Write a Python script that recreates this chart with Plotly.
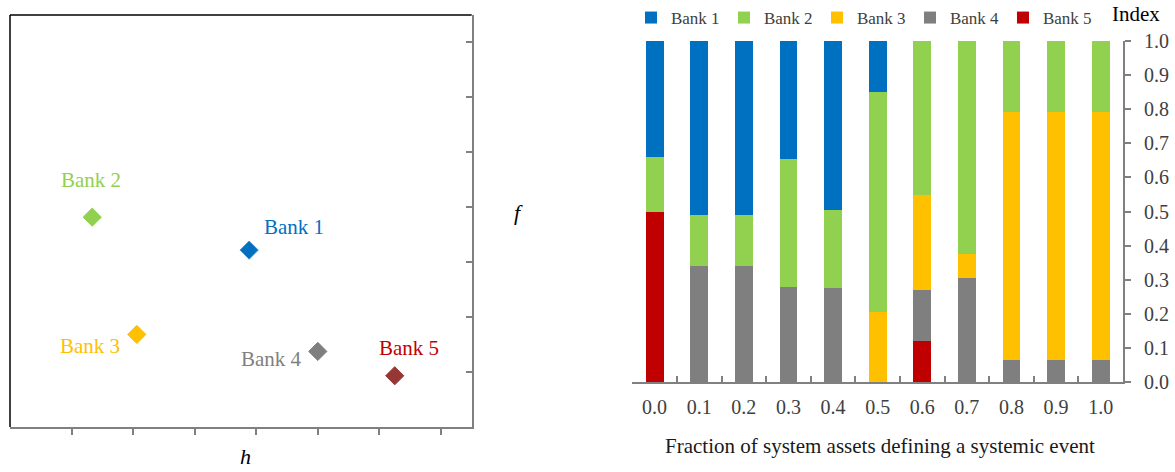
import plotly.graph_objects as go

# ---------------- data ----------------
levels = ["0.0", "0.1", "0.2", "0.3", "0.4", "0.5", "0.6", "0.7", "0.8", "0.9", "1.0"]
bank1 = [0.34, 0.51, 0.51, 0.345, 0.497, 0.15, 0.0, 0.0, 0.0, 0.0, 0.0]
bank2 = [0.16, 0.15, 0.15, 0.375, 0.226, 0.644, 0.453, 0.626, 0.209, 0.209, 0.209]
bank3 = [0.0, 0.0, 0.0, 0.0, 0.0, 0.206, 0.277, 0.068, 0.726, 0.726, 0.726]
bank4 = [0.0, 0.34, 0.34, 0.28, 0.277, 0.0, 0.149, 0.306, 0.065, 0.065, 0.065]
bank5 = [0.5, 0.0, 0.0, 0.0, 0.0, 0.0, 0.121, 0.0, 0.0, 0.0, 0.0]

bank_names = ["Bank 1", "Bank 2", "Bank 3", "Bank 4", "Bank 5"]
h_vals = [3.885, 1.336, 2.06, 5.0, 6.25]
f_vals = [3.22, 3.82, 1.685, 1.376, 0.933]

y_ticks = [0.0, 0.1, 0.2, 0.3, 0.4, 0.5, 0.6, 0.7, 0.8, 0.9, 1.0]
scatter_ticks = [1, 2, 3, 4, 5, 6, 7]

# ---------------- styles ----------------
bar_colors = {"Bank 1": "#0070C0", "Bank 2": "#92D050", "Bank 3": "#FFC000",
              "Bank 4": "#7F7F7F", "Bank 5": "#C00000"}
marker_colors = ["#0070C0", "#92D050", "#FFC000", "#7F7F7F", "#953735"]
marker_edges = ["#4A90D0", "#92D050", "#FFC000", "#7F7F7F", "#953735"]
label_colors = ["#0070C0", "#92D050", "#FFC000", "#808080", "#C00000"]
label_dx = [45, -1, -47, -46, 14]
label_dy = [23, 37, -12, -8, 28]

FONT = "Liberation Serif"
GREY = "#808080"

fig = go.Figure()

# left scatter
fig.add_trace(go.Scatter(
    x=h_vals, y=f_vals, mode="markers", xaxis="x", yaxis="y", showlegend=False,
    marker=dict(symbol="diamond", size=14, color=marker_colors,
                line=dict(color=marker_edges, width=1)),
    hovertext=bank_names,
))

# right stacked bars (bottom -> top: Bank 5, 4, 3, 2, 1)
series = {"Bank 1": bank1, "Bank 2": bank2, "Bank 3": bank3, "Bank 4": bank4, "Bank 5": bank5}
for rank, name in zip([5, 4, 3, 2, 1], ["Bank 5", "Bank 4", "Bank 3", "Bank 2", "Bank 1"]):
    fig.add_trace(go.Bar(
        x=levels, y=series[name], name=name, xaxis="x2", yaxis="y2",
        marker=dict(color=bar_colors[name], line=dict(width=0)),
        legendrank=rank,
    ))

annotations = []
for i, name in enumerate(bank_names):
    annotations.append(dict(
        x=h_vals[i], y=f_vals[i], xref="x", yref="y", text=name, showarrow=False,
        xshift=label_dx[i], yshift=label_dy[i], xanchor="center", yanchor="middle",
        font=dict(family=FONT, size=21, color=label_colors[i]),
    ))

annotations += [
    dict(x=245 / 1175, y=1 - 456 / 472, xref="paper", yref="paper", text="<i>h</i>",
         xanchor="center", yanchor="middle",
         showarrow=False, font=dict(family=FONT, size=22, color="#000000")),
    dict(x=518 / 1175, y=1 - 212 / 472, xref="paper", yref="paper", text="<i>f</i>",
         xanchor="center", yanchor="middle",
         showarrow=False, font=dict(family=FONT, size=22, color="#000000")),
    dict(x=1162 / 1175, y=1 - 14 / 472, xref="paper", yref="paper", text="Index",
         xanchor="right", yanchor="middle", showarrow=False,
         font=dict(family=FONT, size=21, color="#000000")),
    dict(x=880 / 1175, y=1 - 446 / 472, xref="paper", yref="paper",
         text="Fraction of system assets defining a systemic event",
         xanchor="center", yanchor="middle", showarrow=False,
         font=dict(family=FONT, size=21, color="#1a1a1a")),
]

shapes = [
    dict(type="line", xref="x domain", yref="y domain", x0=0, x1=0, y0=0, y1=1,
         line=dict(color="#000000", width=1.5)),
    dict(type="line", xref="x domain", yref="y domain", x0=0, x1=1, y0=1, y1=1,
         line=dict(color="#000000", width=1.5)),
]

fig.update_layout(
    width=1175, height=472, autosize=False,
    margin=dict(l=0, r=0, t=0, b=0, pad=0),
    paper_bgcolor="white", plot_bgcolor="white",
    barmode="stack", bargap=0.6,
    font=dict(family=FONT, color="#404040"),
    showlegend=True,
    legend=dict(orientation="h", x=0.537, y=1.0, xanchor="left", yanchor="top",
                traceorder="normal",
                font=dict(family=FONT, size=17, color="#404040"),
                itemwidth=30, entrywidth=48, entrywidthmode="pixels",
                bgcolor="rgba(0,0,0,0)", tracegroupgap=0),
    xaxis=dict(domain=[10 / 1175, 471.7 / 1175], range=[0, 7.5], anchor="y", automargin=False,
               tickvals=scatter_ticks, ticks="outside", ticklen=6, tickwidth=1.5, tickcolor=GREY,
               showticklabels=False, showline=True, linecolor=GREY, linewidth=2,
               showgrid=False, zeroline=False),
    yaxis=dict(domain=[45 / 472, 457 / 472], range=[0, 7.5], anchor="x", side="right",
               automargin=False,
               tickvals=scatter_ticks, ticks="inside", ticklen=6, tickwidth=1.5, tickcolor=GREY,
               showticklabels=False, showline=True, linecolor=GREY, linewidth=2,
               showgrid=False, zeroline=False),
    xaxis2=dict(domain=[632.3 / 1175, 1123 / 1175], anchor="y2", type="category",
                automargin=False,
                ticks="inside", tickson="boundaries", ticklen=6, tickwidth=1.5, tickcolor=GREY,
                ticklabelstandoff=6,
                showline=True, linecolor=GREY, linewidth=2, showgrid=False,
                tickfont=dict(family=FONT, size=20, color="#404040")),
    yaxis2=dict(domain=[90 / 472, 431 / 472], range=[0, 1], anchor="x2", side="right",
                automargin=False,
                tickvals=y_ticks, tickformat=".1f", ticks="outside", ticklen=6, tickwidth=1.5,
                ticklabelstandoff=9,
                tickcolor=GREY, showline=True, linecolor=GREY, linewidth=2,
                showgrid=False, zeroline=False,
                tickfont=dict(family=FONT, size=20, color="#404040")),
    annotations=annotations,
    shapes=shapes,
)

fig.write_html("out.html", config={"displayModeBar": False},
               post_script="document.body.style.margin='0';")
